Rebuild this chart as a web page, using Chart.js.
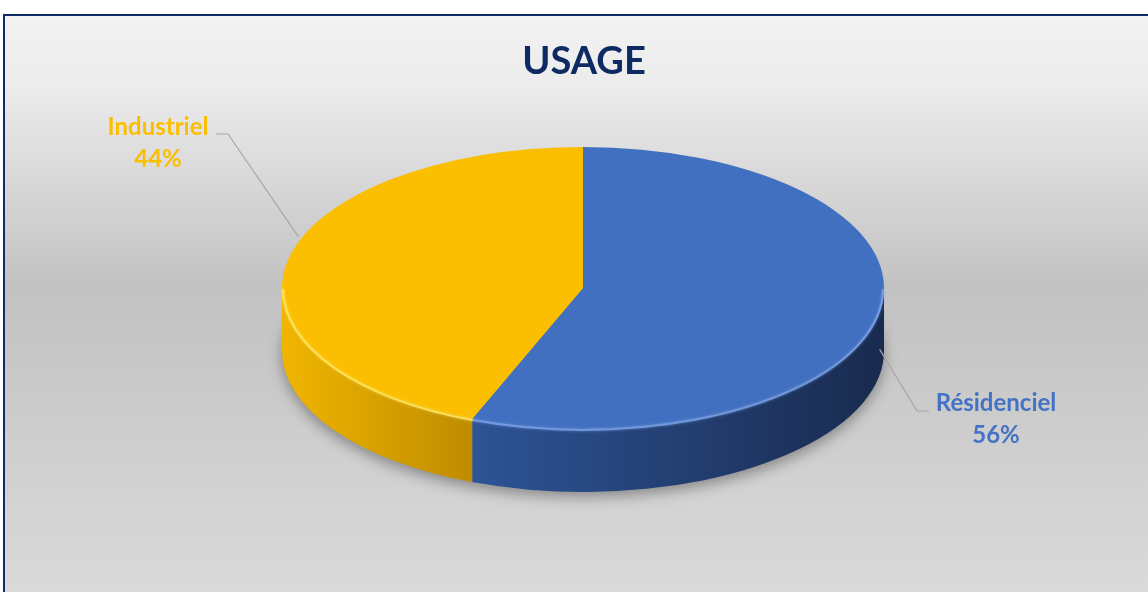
<!DOCTYPE html>
<html>
<head>
<meta charset="utf-8">
<title>USAGE</title>
<script src="https://cdn.jsdelivr.net/npm/chart.js@4.4.1/dist/chart.umd.min.js"></script>
<style>
    html, body { margin: 0; padding: 0; background: #ffffff; }
    canvas { display: block; }
</style>
</head>
<body>
<canvas id="usageChart" width="1148" height="592"></canvas>
<script>
// data
const categories = ['Résidenciel', 'Industriel'];
const shares = [56, 44];

// styles
const topColors = ['#4270C0', '#FBBE00'];
const sideColors = [['#2D5496', '#192A4E'], ['#F0B500', '#BF8C00']];
const rimColors = ['rgba(125,165,235,0.8)', 'rgba(255,228,95,0.9)'];
const labelColors = ['#4472C4', '#FBBE00'];
const labelBoxes = [
    { x: 996, y: 411, elbowX: 917, elbowY: 411, endX: 929, dx: 1, dy: 35 },
    { x: 158, y: 135, elbowX: 228, elbowY: 134, endX: 216, dx: 11, dy: -25 }
];
const PIE = { cx: 583, cy: 288, rx: 301, ry: 141, depth: 63 };

function rimPoint(a, dy) {
    return [PIE.cx + PIE.rx * Math.cos(a), PIE.cy + PIE.ry * Math.sin(a) + (dy || 0)];
}

// part of [start, end] that faces the viewer (lower half of the ellipse)
function frontRanges(start, end) {
    const out = [];
    [[0, Math.PI], [2 * Math.PI, 3 * Math.PI], [-2 * Math.PI, -Math.PI]].forEach(r => {
        const a = Math.max(start, r[0]);
        const b = Math.min(end, r[1]);
        if (b > a) out.push([a, b]);
    });
    return out;
}

const backgroundPlugin = {
    id: 'background',
    beforeDraw(chart) {
        const ctx = chart.ctx;
        ctx.save();
        ctx.fillStyle = '#ffffff';
        ctx.fillRect(0, 0, chart.width, chart.height);
        const g = ctx.createLinearGradient(0, 15, 0, chart.height);
        g.addColorStop(0, '#F2F2F2');
        g.addColorStop(0.12, '#ECECEC');
        g.addColorStop(0.47, '#C2C2C2');
        g.addColorStop(1, '#DADADA');
        ctx.fillStyle = g;
        ctx.fillRect(4, 15, chart.width, chart.height);
        ctx.strokeStyle = '#102C66';
        ctx.lineWidth = 2;
        ctx.strokeRect(4, 15, chart.width + 10, chart.height + 10);
        ctx.restore();
    }
};

const pie3dPlugin = {
    id: 'pie3d',
    beforeDatasetsDraw(chart) {
        const ctx = chart.ctx;
        const arcs = chart.getDatasetMeta(0).data;

        // soft shadow under the pie
        ctx.save();
        ctx.shadowColor = 'rgba(0,0,0,0.35)';
        ctx.shadowBlur = 14;
        ctx.shadowOffsetY = 5;
        ctx.fillStyle = '#9a9a9a';
        ctx.beginPath();
        ctx.ellipse(PIE.cx, PIE.cy + PIE.depth, PIE.rx, PIE.ry, 0, 0, Math.PI * 2);
        ctx.fill();
        ctx.restore();

        // side walls
        arcs.forEach((arc, i) => {
            const p = arc.getProps(['startAngle', 'endAngle'], true);
            frontRanges(p.startAngle, p.endAngle).forEach(([a0, a1]) => {
                const x0 = rimPoint(a0)[0];
                const x1 = rimPoint(a1)[0];
                const g = ctx.createLinearGradient(Math.min(x0, x1), 0, Math.max(x0, x1), 0);
                g.addColorStop(0, sideColors[i][0]);
                g.addColorStop(1, sideColors[i][1]);
                ctx.save();
                ctx.fillStyle = g;
                ctx.beginPath();
                ctx.ellipse(PIE.cx, PIE.cy, PIE.rx, PIE.ry, 0, a0, a1, false);
                ctx.ellipse(PIE.cx, PIE.cy + PIE.depth, PIE.rx, PIE.ry, 0, a1, a0, true);
                ctx.closePath();
                ctx.fill();
                ctx.restore();
            });
        });

        // squash the library's circle into the tilted top face
        const first = arcs[0];
        ctx.save();
        ctx.translate(PIE.cx, PIE.cy);
        ctx.scale(PIE.rx / first.outerRadius, PIE.ry / first.outerRadius);
        ctx.translate(-first.x, -first.y);
    },
    afterDatasetsDraw(chart) {
        const ctx = chart.ctx;
        ctx.restore();

        // light bevel on the front edge of the top face
        const arcs = chart.getDatasetMeta(0).data;
        arcs.forEach((arc, i) => {
            const p = arc.getProps(['startAngle', 'endAngle'], true);
            frontRanges(p.startAngle, p.endAngle).forEach(([a0, a1]) => {
                ctx.save();
                ctx.strokeStyle = rimColors[i];
                ctx.lineWidth = 2;
                ctx.shadowColor = rimColors[i];
                ctx.shadowBlur = 3;
                ctx.beginPath();
                ctx.ellipse(PIE.cx, PIE.cy + 1, PIE.rx - 1, PIE.ry, 0, a0, a1, false);
                ctx.stroke();
                ctx.restore();
            });
        });
    },
    afterDraw(chart) {
        const ctx = chart.ctx;
        const arcs = chart.getDatasetMeta(0).data;
        const total = shares.reduce((s, v) => s + v, 0);
        arcs.forEach((arc, i) => {
            const p = arc.getProps(['startAngle', 'endAngle'], true);
            const mid = (p.startAngle + p.endAngle) / 2;
            const box = labelBoxes[i];
            const pt = rimPoint(mid, box.dy);
            ctx.save();
            ctx.strokeStyle = '#A6A6A6';
            ctx.lineWidth = 1.2;
            ctx.beginPath();
            ctx.moveTo(pt[0] + box.dx, pt[1]);
            ctx.lineTo(box.elbowX, box.elbowY);
            ctx.lineTo(box.endX, box.elbowY);
            ctx.stroke();

            ctx.fillStyle = labelColors[i];
            ctx.font = 'bold 24px Lato';
            ctx.textAlign = 'center';
            ctx.textBaseline = 'alphabetic';
            ctx.fillText(chart.data.labels[i], box.x, box.y);
            const pct = Math.round(chart.data.datasets[0].data[i] / total * 100) + '%';
            ctx.fillText(pct, box.x, box.y + 32);
            ctx.restore();
        });
    }
};

const ctx = document.getElementById('usageChart').getContext('2d');
const chartInstance = new Chart(ctx, {
    type: 'pie',
    data: {
        labels: categories,
        datasets: [{
            data: shares,
            backgroundColor: topColors,
            borderWidth: 0
        }]
    },
    options: {
        responsive: false,
        animation: false,
        events: [],
        layout: { padding: { top: 39, left: 30, right: 10, bottom: 20 } },
        plugins: {
            legend: { display: false },
            tooltip: { enabled: false },
            title: {
                display: true,
                text: 'USAGE',
                color: '#0E2A63',
                font: { family: 'Lato', size: 38, weight: 'bold' },
                padding: { top: 0, bottom: 10 }
            }
        }
    },
    plugins: [backgroundPlugin, pie3dPlugin]
});
</script>
</body>
</html>
